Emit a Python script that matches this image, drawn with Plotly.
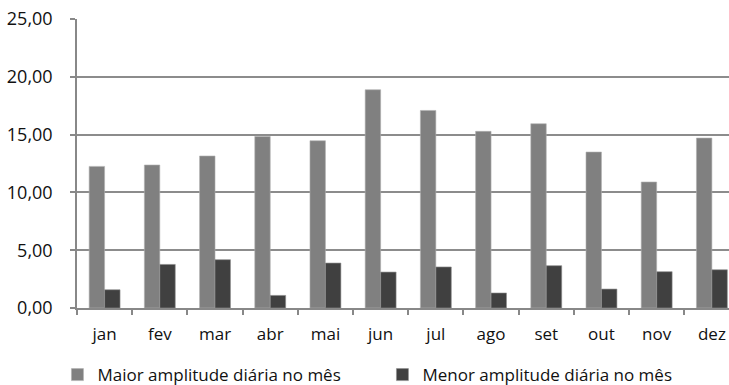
import plotly.graph_objects as go

meses = ["jan", "fev", "mar", "abr", "mai", "jun", "jul", "ago", "set", "out", "nov", "dez"]
maior = [12.25, 12.37, 13.15, 14.84, 14.47, 18.88, 17.09, 15.28, 15.94, 13.49, 10.90, 14.70]
menor = [1.58, 3.77, 4.18, 1.09, 3.89, 3.11, 3.55, 1.30, 3.66, 1.64, 3.14, 3.31]

fig = go.Figure()
fig.add_trace(go.Bar(x=meses, y=maior, name="Maior amplitude diária no mês",
                     marker=dict(color="#808080", line=dict(color="#b0b0b0", width=0.6))))
fig.add_trace(go.Bar(x=meses, y=menor, name="Menor amplitude diária no mês",
                     marker=dict(color="#404040", line=dict(color="#909090", width=0.6))))

font = "Open Sans, Lato, sans-serif"
fig.update_layout(
    width=729, height=385,
    margin=dict(l=77, r=0, t=19, b=77, autoexpand=False),
    paper_bgcolor="white", plot_bgcolor="white",
    barmode="group", bargap=0.44, bargroupgap=0,
    separators=",.",
    font=dict(family=font, size=17, color="#111111"),
    showlegend=True,
    legend=dict(orientation="h", x=-0.03, y=-0.232, xanchor="left", yanchor="middle",
                entrywidth=280, entrywidthmode="pixels",
                font=dict(size=17, color="#111111"), itemwidth=30,
                traceorder="normal"),
    xaxis=dict(type="category", range=[-0.5, 11.31], showline=True, linecolor="#888888",
               linewidth=1.5, ticks="outside", tickson="boundaries", ticklen=5,
               tickcolor="#888888", tickwidth=1.5, showgrid=False,
               tickfont=dict(size=17, color="#111111"), ticklabelstandoff=10),
    yaxis=dict(range=[0, 25], dtick=5, tickformat=".2f", showline=True, linecolor="#888888",
               linewidth=1.5, ticks="outside", ticklen=5, tickcolor="#888888", tickwidth=1.5,
               showgrid=True, gridcolor="#8c8c8c", gridwidth=1.5, zeroline=False,
               tickfont=dict(size=18, color="#111111"), ticklabelstandoff=14),
)
fig.write_html("out.html")
